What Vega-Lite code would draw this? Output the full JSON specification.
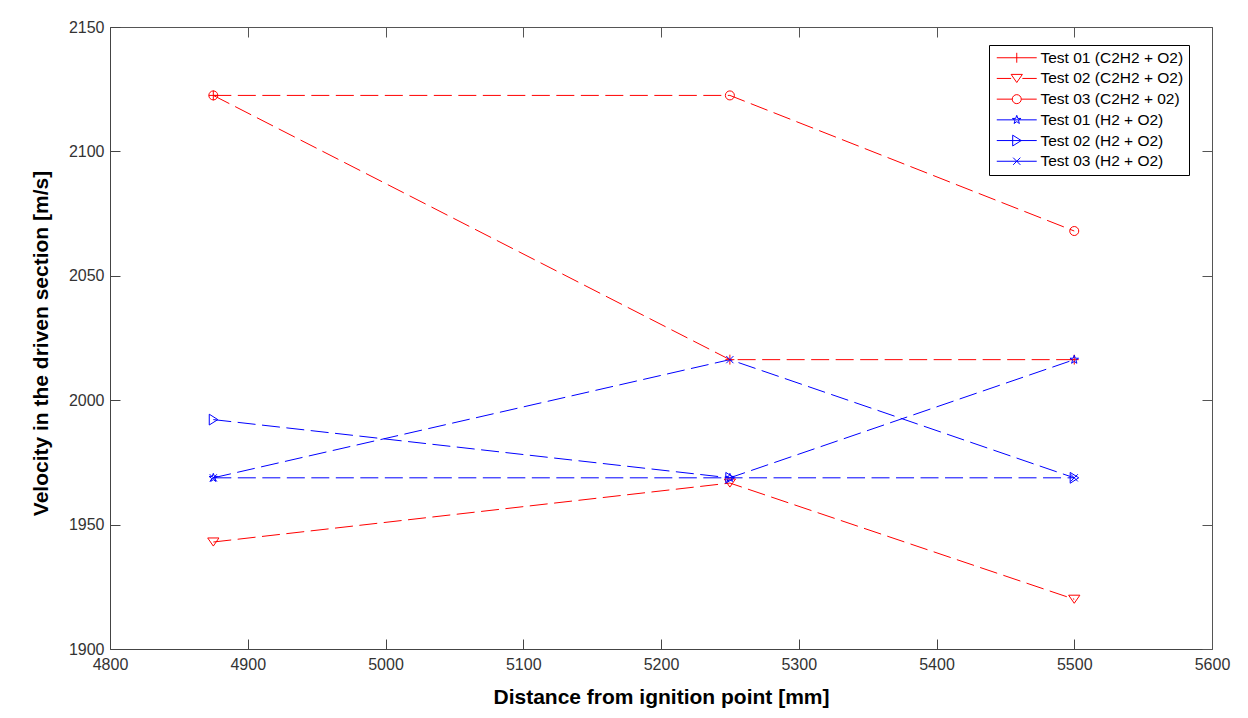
{
  "$schema": "https://vega.github.io/schema/vega-lite/v6.json",
  "width": 1102,
  "height": 622,
  "autosize": {"type": "none"},
  "padding": {"left": 110, "top": 27, "right": 36, "bottom": 69},
  "background": "white",
  "config": {"font": "Liberation Sans", "view": {"stroke": null}},
  "data": {
    "values": [
      {"series": "Test 01 (C2H2 + O2)", "x": 4875, "y": 2122.5},
      {"series": "Test 01 (C2H2 + O2)", "x": 5250, "y": 2016.3},
      {"series": "Test 01 (C2H2 + O2)", "x": 5500, "y": 2016.3},
      {"series": "Test 02 (C2H2 + O2)", "x": 4875, "y": 1943},
      {"series": "Test 02 (C2H2 + O2)", "x": 5250, "y": 1966.7},
      {"series": "Test 02 (C2H2 + O2)", "x": 5500, "y": 1920},
      {"series": "Test 03 (C2H2 + 02)", "x": 4875, "y": 2122.5},
      {"series": "Test 03 (C2H2 + 02)", "x": 5250, "y": 2122.5},
      {"series": "Test 03 (C2H2 + 02)", "x": 5500, "y": 2068},
      {"series": "Test 01 (H2 + O2)", "x": 4875, "y": 1968.8},
      {"series": "Test 01 (H2 + O2)", "x": 5250, "y": 1968.8},
      {"series": "Test 01 (H2 + O2)", "x": 5500, "y": 2016.3},
      {"series": "Test 02 (H2 + O2)", "x": 4875, "y": 1992.2},
      {"series": "Test 02 (H2 + O2)", "x": 5250, "y": 1968.8},
      {"series": "Test 02 (H2 + O2)", "x": 5500, "y": 1968.8},
      {"series": "Test 03 (H2 + O2)", "x": 4875, "y": 1968.8},
      {"series": "Test 03 (H2 + O2)", "x": 5250, "y": 2016.3},
      {"series": "Test 03 (H2 + O2)", "x": 5500, "y": 1968.8}
    ]
  },
  "layer": [
    {
      "mark": {"type": "line", "strokeDash": [18, 6.5], "strokeWidth": 1},
      "encoding": {
        "x": {
          "field": "x", "type": "quantitative",
          "scale": {"domain": [4800, 5600], "nice": false, "zero": false},
          "axis": {
            "orient": "bottom", "format": "d",
            "values": [4800, 4900, 5000, 5100, 5200, 5300, 5400, 5500, 5600],
            "grid": false, "tickSize": -10, "tickColor": "#444", "domainColor": "#444",
            "labelFontSize": 16, "labelColor": "#333", "labelPadding": 17,
            "labelFlush": false, "labelOverlap": false,
            "title": "Distance from ignition point [mm]",
            "titleFontSize": 21, "titleFontWeight": "bold", "titleColor": "black",
            "titleY": 54, "titleBaseline": "alphabetic"
          }
        },
        "y": {
          "field": "y", "type": "quantitative",
          "scale": {"domain": [1900, 2150], "nice": false, "zero": false},
          "axis": {
            "orient": "left", "format": "d",
            "values": [1900, 1950, 2000, 2050, 2100, 2150],
            "grid": false, "tickSize": -10, "tickColor": "#444", "domainColor": "#444",
            "labelFontSize": 16, "labelColor": "#333", "labelPadding": 16,
            "labelFlush": false, "labelOverlap": false,
            "title": "Velocity in the driven section [m/s]",
            "titleFontSize": 21, "titleFontWeight": "bold", "titleColor": "black",
            "titleX": -63, "titleY": 316, "titleBaseline": "alphabetic"
          }
        },
        "color": {
          "field": "series", "type": "nominal",
          "scale": {
            "domain": ["Test 01 (C2H2 + O2)", "Test 02 (C2H2 + O2)", "Test 03 (C2H2 + 02)", "Test 01 (H2 + O2)", "Test 02 (H2 + O2)", "Test 03 (H2 + O2)"],
            "range": ["#ff0000", "#ff0000", "#ff0000", "#0000ff", "#0000ff", "#0000ff"]
          },
          "legend": {
            "title": null, "orient": "none", "legendX": 879, "legendY": 18,
            "strokeColor": "black", "fillColor": "white", "padding": 5,
            "labelFontSize": 15.5, "labelColor": "black", "labelFont": "Liberation Sans",
            "symbolSize": 81, "symbolStrokeWidth": 1, "symbolOffset": 15, "labelOffset": 16,
            "rowPadding": 3.7,
            "encode": {
              "symbols": {
                "update": {
                  "shape": {"signal": "['M-4.44,0H4.44M0,-1.1V1.1','M-4.44,0H-1.25M1.25,0H4.44M-1.25,-0.9L1.25,-0.9L0,0.9Z','M-4.44,0H-1M1,0H4.44M1,0A1,1 0 1,1 -1,0A1,1 0 1,1 1,0','M-4.44,0H4.44M0,-1L0.235,-0.324L0.951,-0.309L0.38,0.124L0.588,0.809L0,0.4L-0.588,0.809L-0.38,0.124L-0.951,-0.309L-0.235,-0.324Z','M-4.44,0H4.44M-0.9,-1.2L1,0L-0.9,1.2Z','M-4.44,0H4.44M-0.8,-0.8L0.8,0.8M-0.8,0.8L0.8,-0.8'][datum.index]"}
                }
              }
            }
          }
        }
      }
    },
    {
      "mark": {"type": "point", "filled": false, "size": 81, "strokeWidth": 1, "opacity": 1},
      "encoding": {
        "x": {"field": "x", "type": "quantitative", "scale": {"domain": [4800, 5600], "nice": false, "zero": false}, "axis": null},
        "y": {"field": "y", "type": "quantitative", "scale": {"domain": [1900, 2150], "nice": false, "zero": false}, "axis": null},
        "color": {"field": "series", "type": "nominal", "legend": null},
        "shape": {
          "condition": [
            {"test": "datum.series === 'Test 01 (C2H2 + O2)'", "value": "M-1,0H1M0,-1.1V1.1"},
            {"test": "datum.series === 'Test 02 (C2H2 + O2)'", "value": "M-1.25,-0.9L1.25,-0.9L0,0.9Z"},
            {"test": "datum.series === 'Test 03 (C2H2 + 02)'", "value": "circle"},
            {"test": "datum.series === 'Test 01 (H2 + O2)'", "value": "M0,-1L0.235,-0.324L0.951,-0.309L0.38,0.124L0.588,0.809L0,0.4L-0.588,0.809L-0.38,0.124L-0.951,-0.309L-0.235,-0.324Z"},
            {"test": "datum.series === 'Test 02 (H2 + O2)'", "value": "M-0.9,-1.2L1,0L-0.9,1.2Z"}
          ],
          "value": "M-0.8,-0.8L0.8,0.8M-0.8,0.8L0.8,-0.8"
        }
      }
    },
    {
      "mark": {"type": "point", "opacity": 0},
      "encoding": {
        "x": {
          "field": "x", "type": "quantitative",
          "scale": {"domain": [4800, 5600], "nice": false, "zero": false},
          "axis": {"orient": "top", "values": [4800, 4900, 5000, 5100, 5200, 5300, 5400, 5500, 5600], "labels": false, "title": null, "grid": false, "tickSize": -10, "tickColor": "#555", "domainColor": "#555"}
        },
        "y": {
          "field": "y", "type": "quantitative",
          "scale": {"domain": [1900, 2150], "nice": false, "zero": false},
          "axis": {"orient": "right", "values": [1900, 1950, 2000, 2050, 2100, 2150], "labels": false, "title": null, "grid": false, "tickSize": -10, "tickColor": "#555", "domainColor": "#555"}
        }
      }
    }
  ],
  "resolve": {"scale": {"x": "independent", "y": "independent"}}
}
